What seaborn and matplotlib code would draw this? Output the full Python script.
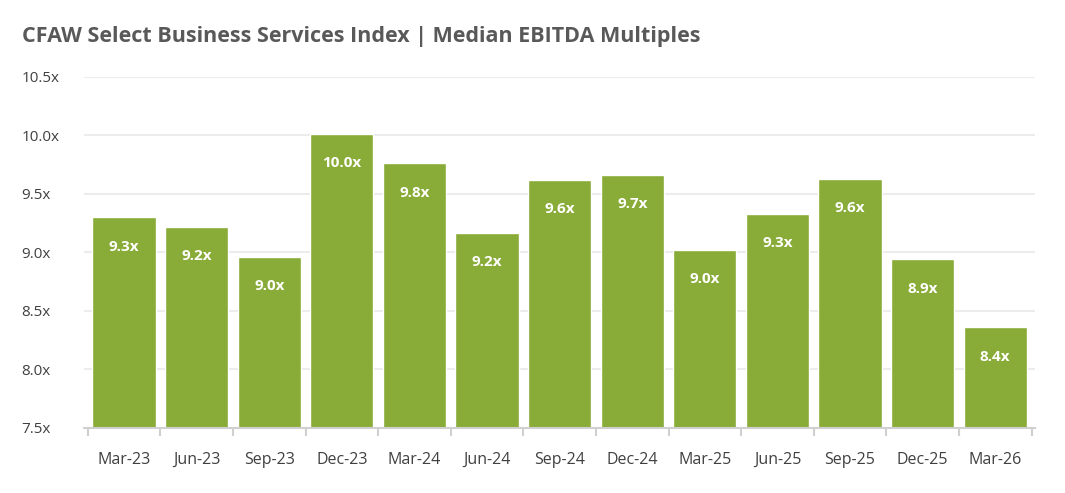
import numpy as np
import pandas as pd
import matplotlib.pyplot as plt
import seaborn as sns
from matplotlib.ticker import FixedLocator

quarters = ["Mar-23", "Jun-23", "Sep-23", "Dec-23", "Mar-24", "Jun-24", "Sep-24",
            "Dec-24", "Mar-25", "Jun-25", "Sep-25", "Dec-25", "Mar-26"]
multiples = [9.30, 9.22, 8.96, 10.01, 9.76, 9.17, 9.62, 9.66, 9.02, 9.33, 9.63, 8.94, 8.36]
y_ticks = [7.5, 8.0, 8.5, 9.0, 9.5, 10.0, 10.5]

GREEN = "#89ab37"
GRID = "#ececec"
TEXT = "#404040"

sns.set_theme(style="white")
plt.rcParams["font.family"] = ["Open Sans", "DejaVu Sans"]

df = pd.DataFrame({"quarter": quarters, "multiple": multiples})

fig = plt.figure(figsize=(10.65, 4.93), dpi=100)
ax = fig.add_axes([0.079, 0.132, 0.893, 0.712])

sns.barplot(data=df, x="quarter", y="multiple", order=quarters, color=GREEN,
            width=0.87, saturation=1, errorbar=None, zorder=2, ax=ax)

ax.set_ylim(7.5, 10.5)
ax.set_yticks(y_ticks)
ax.set_yticklabels([f"{v:.1f}x" for v in y_ticks])
ax.grid(True, axis="y", color=GRID, linewidth=1.5)
ax.set_axisbelow(True)

# value labels inside the bars
for i, v in enumerate(multiples):
    ax.text(i, v - 0.25, f"{v:.1f}x", ha="center", va="center", color="white",
            fontsize=11, fontweight="bold", zorder=3)

ax.set_xlim(-0.55, len(quarters) - 0.45)
ax.xaxis.set_minor_locator(FixedLocator(np.arange(-0.5, len(quarters), 1.0)))
ax.tick_params(axis="x", which="major", bottom=False, pad=11, labelsize=11.5, labelcolor=TEXT)
ax.tick_params(axis="x", which="minor", bottom=True, length=6, width=1.5,
               color="#d0d0d0", direction="out")
ax.tick_params(axis="y", length=0, pad=45, labelsize=11, labelcolor=TEXT)
for lbl in ax.get_yticklabels():
    lbl.set_horizontalalignment("left")

for s in ["top", "right", "left"]:
    ax.spines[s].set_visible(False)
ax.spines["bottom"].set_color("#d0d0d0")
ax.spines["bottom"].set_linewidth(1.5)
ax.set_xlabel("")
ax.set_ylabel("")

fig.text(0.021, 0.925, "CFAW Select Business Services Index | Median EBITDA Multiples",
         fontsize=15.5, fontweight="bold", color="#595959", ha="left", va="center")

fig.savefig("out.png", dpi=100)
